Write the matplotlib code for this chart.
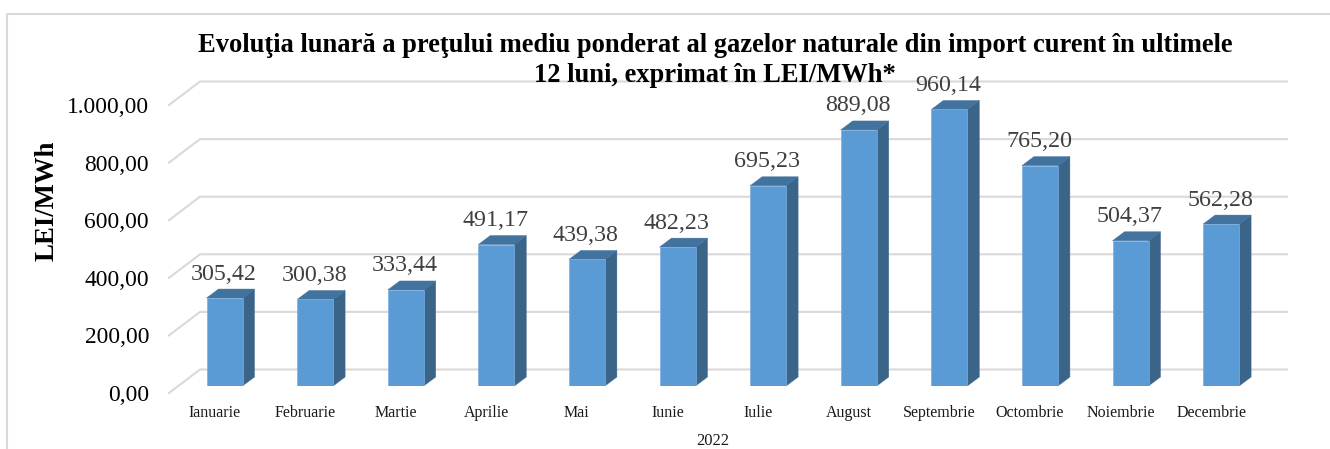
import matplotlib
matplotlib.use("Agg")
import matplotlib.pyplot as plt
from matplotlib.patches import Polygon
from matplotlib.lines import Line2D
from matplotlib.transforms import ScaledTranslation

months = ["Ianuarie", "Februarie", "Martie", "Aprilie", "Mai", "Iunie", "Iulie",
          "August", "Septembrie", "Octombrie", "Noiembrie", "Decembrie"]
prices = [305.42, 300.38, 333.44, 491.17, 439.38, 482.23, 695.23,
          889.08, 960.14, 765.20, 504.37, 562.28]
value_labels = ["305,42", "300,38", "333,44", "491,17", "439,38", "482,23", "695,23",
                "889,08", "960,14", "765,20", "504,37", "562,28"]
y_ticks = [0, 200, 400, 600, 800, 1000]
y_tick_labels = ["0,00", "200,00", "400,00", "600,00", "800,00", "1.000,00"]

W, H = 1330, 449
plt.rcParams['font.family'] = ['Liberation Serif', 'DejaVu Serif']
fig = plt.figure(figsize=(W / 100, H / 100), dpi=100)

# pixel layout
L, R, B, T = 169, 1287, 386, 98
ax = fig.add_axes([L / W, 1 - B / H, (R - L) / W, (B - T) / H])
PX_X = 90.6                # pixels per category
PX_Y = (B - T) / 1000      # pixels per unit
X0 = 224.5
ax.set_xlim((L - X0) / PX_X, (R - X0) / PX_X)
ax.set_ylim(0, 1000)
for s in ax.spines.values():
    s.set_visible(False)
ax.patch.set_visible(False)

GRID = "#d9d9d9"
FRONT, SIDE, TOP = "#5b9bd5", "#3b6489", "#42739f"
dx, dy = 12 / PX_X, 9 / PX_Y              # bar depth
gx0, gx1 = (L - X0) / PX_X, (200 - X0) / PX_X
gxe = (R - X0) / PX_X
g_lo, g_hi = -7 / PX_Y, 16.5 / PX_Y
for v in y_ticks:
    ax.plot([gx0, gx1, gxe], [v + g_lo, v + g_hi, v + g_hi], color=GRID, lw=1.5,
            clip_on=False, zorder=1, solid_joinstyle="miter")

w = 36 / PX_X
xs = list(range(len(months)))
ax.bar(xs, prices, width=w, color=FRONT, edgecolor="#79aee0", linewidth=0.5, zorder=3)
for x, v in zip(xs, prices):
    xl, xr = x - w / 2, x + w / 2
    ax.add_patch(Polygon([(xr, 0), (xr + dx, dy), (xr + dx, v + dy), (xr, v)],
                         closed=True, fc=SIDE, ec=SIDE, lw=0.3, zorder=2.9, clip_on=False))
    ax.add_patch(Polygon([(xl, v), (xl + dx, v + dy), (xr + dx, v + dy), (xr, v)],
                         closed=True, fc=TOP, ec=TOP, lw=0.3, zorder=2.9, clip_on=False))
for x, v, s in zip(xs, prices, value_labels):
    ax.annotate(s, (x, v), xytext=(-1 * 0.72, 24 * 0.72), textcoords="offset points",
                ha="center", va="center", fontsize=17.3, color="#404040", zorder=5,
                annotation_clip=False)

ax.set_yticks(y_ticks, y_tick_labels, fontsize=16.9, color="black")
ax.set_xticks(xs, months, fontsize=11.5, color="#1a1a1a")
ax.tick_params(axis="y", length=0, pad=14.4)
ax.tick_params(axis="x", length=0, pad=14)
for t in ax.get_yticklabels():
    t.set_transform(t.get_transform() + ScaledTranslation(0, -7 / 100, fig.dpi_scale_trans))
for t in ax.get_xticklabels():
    t.set_transform(t.get_transform() + ScaledTranslation(-10 / 100, 0, fig.dpi_scale_trans))


def fx(px):
    return px / W


def fy(py):
    return 1 - py / H


fig.text(fx(715), fy(45.5), "Evoluţia lunară a preţului mediu ponderat al gazelor naturale din import curent în ultimele",
         ha="center", va="center", fontsize=19.1, fontweight="bold", color="black", zorder=6)
fig.text(fx(715), fy(75), "12 luni, exprimat în LEI/MWh*", ha="center", va="center",
         fontsize=19.1, fontweight="bold", color="black", zorder=6)
fig.text(fx(47.5), fy(201), "LEI/MWh", rotation=90, ha="center", va="center",
         fontsize=19.3, fontweight="bold", color="black")
fig.text(fx(713), fy(441), "2022", ha="center", va="center", fontsize=12, color="#1a1a1a")

fig.add_artist(Line2D([fx(7), fx(7), fx(1330)], [fy(449), fy(14), fy(14)], color=GRID, lw=1.5))
fig.savefig("out.png", dpi=100)
